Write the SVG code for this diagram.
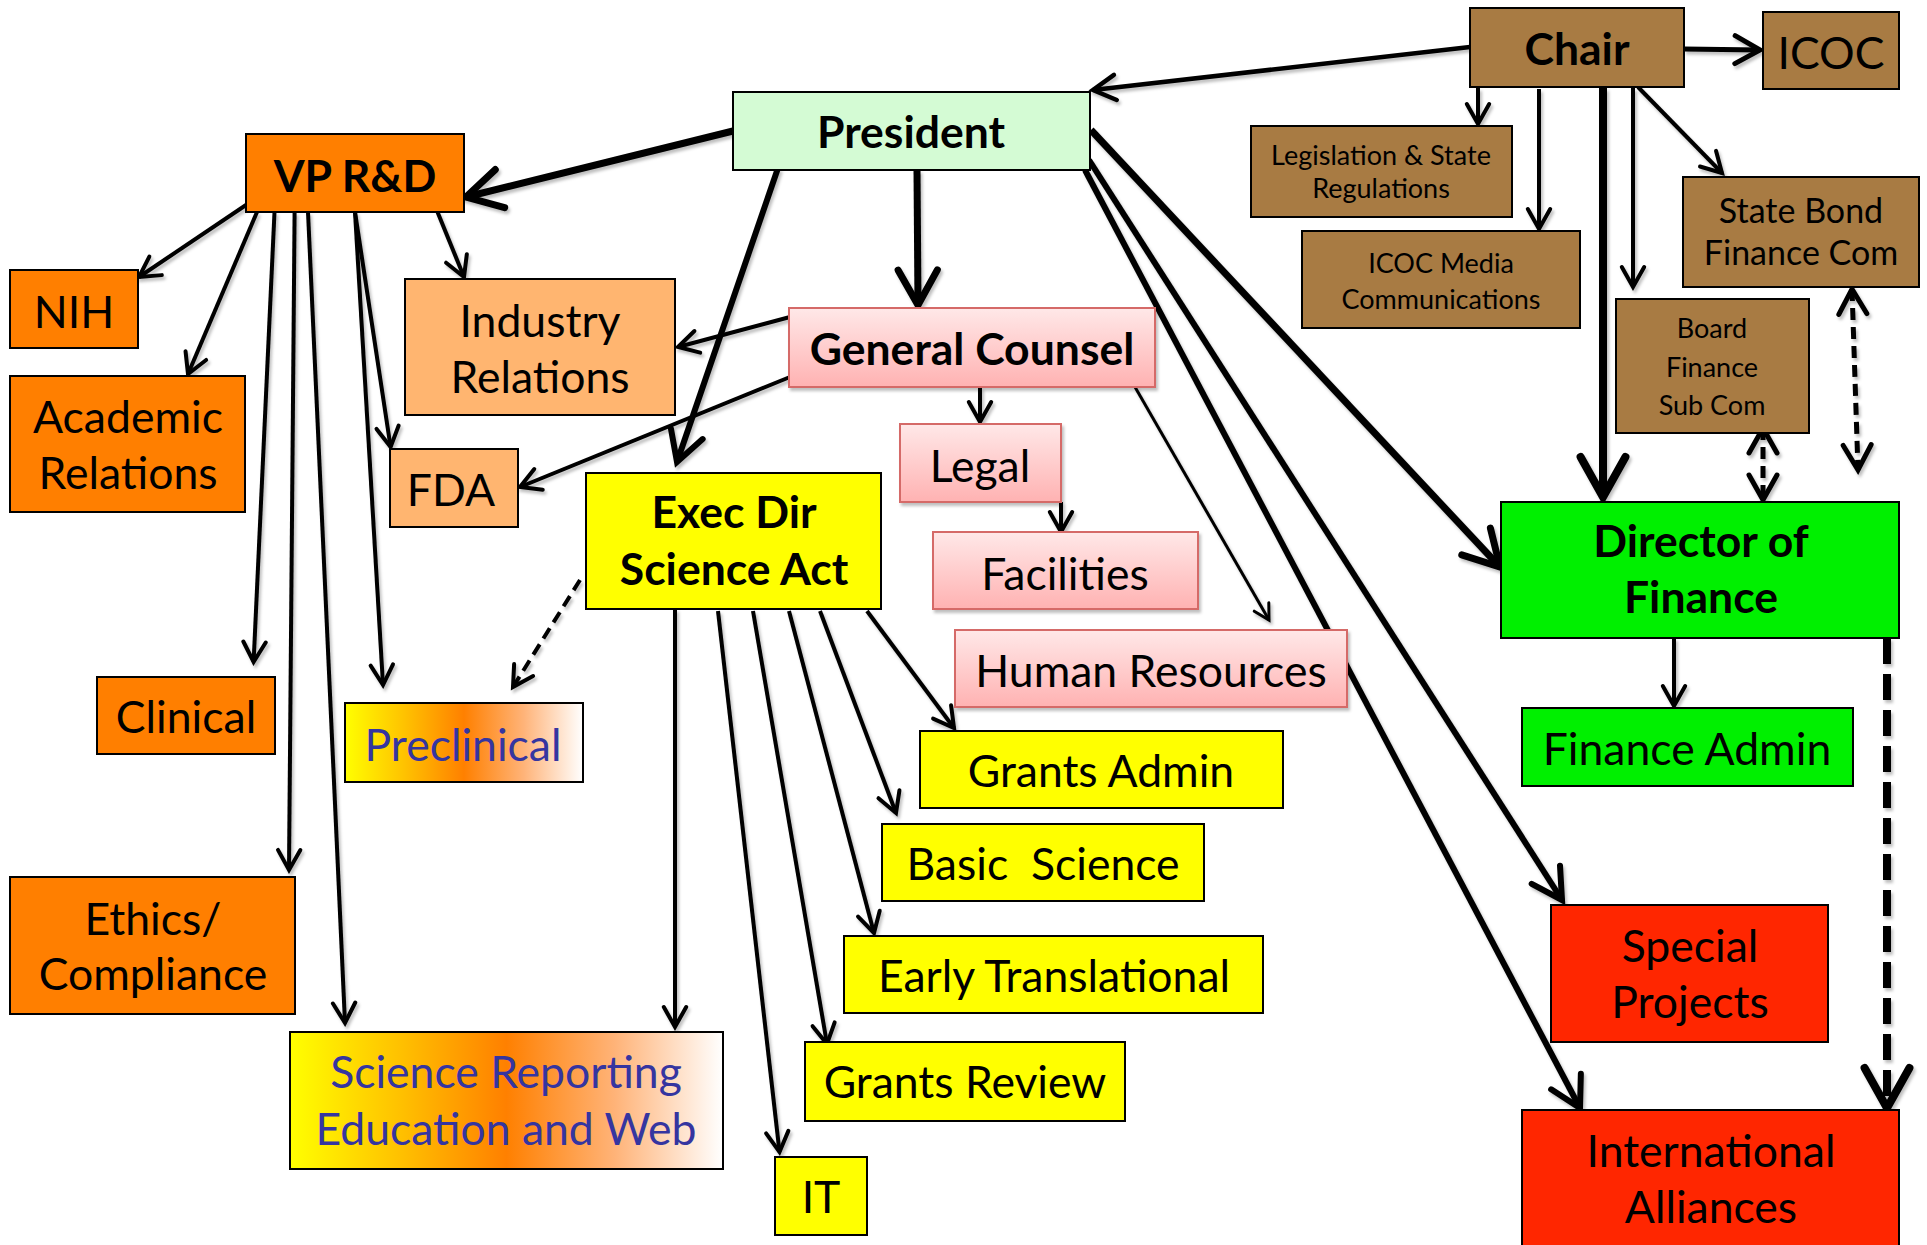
<svg xmlns="http://www.w3.org/2000/svg" width="1927" height="1245" viewBox="0 0 1927 1245">
<style>
.bx{stroke:#000;stroke-width:2}
.pk{fill:url(#gPink);stroke:#D56A68;stroke-width:2;filter:url(#sh)}
.or{fill:#FF7F00}
.lo{fill:#FFB570}
.ye{fill:#FFFF00}
.br{fill:#A87B43}
.gr{fill:#00F000}
.rd{fill:#FF2600}
.t{font-family:Lato,"Liberation Sans",sans-serif;font-size:44.5px;text-anchor:middle;fill:#000}
.b{font-weight:bold}
.s{font-size:27px}
.m{font-size:34px}
.bl{fill:#3535A0}
.c line{stroke:#000;fill:none;marker-end:url(#ah)}
.d{stroke-dasharray:12 7}
.dd{stroke-dasharray:26 10}
.two{marker-start:url(#ah)}
</style>
<defs>
<marker id="ah" viewBox="-7 -5 9 10" refX="0" refY="0" markerWidth="9" markerHeight="10" orient="auto-start-reverse" markerUnits="strokeWidth" overflow="visible">
<path d="M-5,-2.8 L0,0 L-5,2.8" fill="none" stroke="#000" stroke-width="1" stroke-dasharray="none" stroke-linecap="round" stroke-linejoin="miter"/>
</marker>
<linearGradient id="gPink" x1="0" y1="0" x2="0" y2="1">
<stop offset="0" stop-color="#FFE8E8"/>
<stop offset="1" stop-color="#FFB2B2"/>
</linearGradient>
<linearGradient id="gFade" x1="0" y1="0" x2="1" y2="0">
<stop offset="0" stop-color="#FFFF00"/>
<stop offset="0.25" stop-color="#FFC200"/>
<stop offset="0.5" stop-color="#FF8000"/>
<stop offset="0.75" stop-color="#FFB378"/>
<stop offset="1" stop-color="#FFFFFF"/>
</linearGradient>
<filter id="sh" x="-10%" y="-10%" width="130%" height="130%">
<feDropShadow dx="2" dy="3" stdDeviation="1.5" flood-color="#000" flood-opacity="0.25"/>
</filter>
</defs>
<rect width="1927" height="1245" fill="#fff"/>

<g id="connectors" class="c" filter="url(#sh)">
<line x1="1470" y1="47" x2="1093" y2="90" stroke-width="4.5"/>
<line x1="1684" y1="49" x2="1760" y2="50" stroke-width="5"/>
<line x1="1478" y1="88" x2="1478" y2="124" stroke-width="4"/>
<line x1="1539" y1="89" x2="1539" y2="229" stroke-width="4"/>
<line x1="1603" y1="88" x2="1603" y2="497" stroke-width="8"/>
<line x1="1633" y1="88" x2="1633" y2="287" stroke-width="4"/>
<line x1="1638" y1="87" x2="1722" y2="173" stroke-width="4"/>
<line class="d two" x1="1763" y1="428" x2="1763" y2="500" stroke-width="5"/>
<line class="d two" x1="1852" y1="289" x2="1858" y2="470" stroke-width="5"/>
<line x1="1674" y1="638" x2="1674" y2="706" stroke-width="4"/>
<line class="dd" x1="1887" y1="638" x2="1887" y2="1108" stroke-width="8"/>
<line x1="733" y1="131" x2="466" y2="197" stroke-width="7"/>
<line x1="917" y1="170" x2="918" y2="305" stroke-width="7"/>
<line x1="778" y1="168" x2="677" y2="462" stroke-width="6"/>
<line x1="1091" y1="130" x2="1500" y2="567" stroke-width="7"/>
<line x1="1089" y1="160" x2="1562" y2="900" stroke-width="6"/>
<line x1="1085" y1="170" x2="1580" y2="1108" stroke-width="6"/>
<line x1="790" y1="317" x2="678" y2="347" stroke-width="4"/>
<line x1="790" y1="377" x2="520" y2="487" stroke-width="4"/>
<line x1="980" y1="387" x2="980" y2="422" stroke-width="4"/>
<line x1="1061" y1="502" x2="1061" y2="532" stroke-width="4"/>
<line x1="1135" y1="387" x2="1269" y2="620" stroke-width="3"/>
<line x1="246" y1="205" x2="139" y2="277" stroke-width="4"/>
<line x1="257" y1="212" x2="188" y2="374" stroke-width="4"/>
<line x1="274.5" y1="212" x2="253.6" y2="662" stroke-width="4"/>
<line x1="294.6" y1="212" x2="289" y2="870" stroke-width="4"/>
<line x1="308" y1="212" x2="345" y2="1023" stroke-width="4"/>
<line x1="355" y1="212" x2="390.6" y2="447" stroke-width="4"/>
<line x1="355" y1="212" x2="383" y2="685" stroke-width="4"/>
<line x1="437.5" y1="212" x2="464" y2="277" stroke-width="4"/>
<line class="d" x1="580" y1="580" x2="513" y2="687" stroke-width="4"/>
<line x1="675" y1="609" x2="675" y2="1027" stroke-width="4"/>
<line x1="718" y1="611" x2="779.5" y2="1152" stroke-width="4"/>
<line x1="753" y1="611" x2="827" y2="1044" stroke-width="4"/>
<line x1="789" y1="611" x2="874" y2="933" stroke-width="4"/>
<line x1="820" y1="611" x2="896" y2="813" stroke-width="4"/>
<line x1="867" y1="611" x2="954" y2="728" stroke-width="4"/>
</g>

<g id="chair"><rect class="bx br" x="1470" y="8" width="214" height="79"/><text class="t b" x="1577" y="65">Chair</text></g>
<g id="icoc"><rect class="bx br" x="1763" y="12" width="136" height="77"/><text class="t" x="1831" y="69">ICOC</text></g>
<g id="legislation"><rect class="bx br" x="1251" y="126" width="261" height="91"/><text class="t s" x="1381" y="165">Legislation &amp; State</text><text class="t s" x="1381" y="198">Regulations</text></g>
<g id="icoc-media"><rect class="bx br" x="1302" y="231" width="278" height="97"/><text class="t s" x="1441" y="273">ICOC Media</text><text class="t s" x="1441" y="309">Communications</text></g>
<g id="state-bond"><rect class="bx br" x="1683" y="177" width="236" height="110"/><text class="t m" x="1801" y="223">State Bond</text><text class="t m" x="1801" y="265">Finance Com</text></g>
<g id="board-finance"><rect class="bx br" x="1616" y="299" width="193" height="134"/><text class="t s" x="1712" y="338">Board</text><text class="t s" x="1712" y="377">Finance</text><text class="t s" x="1712" y="415">Sub Com</text></g>
<g id="president"><rect class="bx" fill="#D4FBD4" x="733" y="92" width="357" height="78"/><text class="t b" x="911" y="148">President</text></g>
<g id="vp-rd"><rect class="bx or" x="246" y="134" width="218" height="78"/><text class="t b" x="355" y="192">VP R&amp;D</text></g>
<g id="nih"><rect class="bx or" x="10" y="270" width="128" height="78"/><text class="t" x="74" y="328">NIH</text></g>
<g id="academic"><rect class="bx or" x="10" y="376" width="235" height="136"/><text class="t" x="128" y="433">Academic</text><text class="t" x="128" y="489">Relations</text></g>
<g id="industry"><rect class="bx lo" x="405" y="279" width="270" height="136"/><text class="t" x="540" y="337">Industry</text><text class="t" x="540" y="393">Relations</text></g>
<g id="fda"><rect class="bx lo" x="390" y="449" width="128" height="78"/><text class="t" x="451" y="506">FDA</text></g>
<g id="clinical"><rect class="bx or" x="97" y="677" width="178" height="77"/><text class="t" x="186" y="733">Clinical</text></g>
<g id="preclinical"><rect class="bx" fill="url(#gFade)" x="345" y="703" width="238" height="79"/><text class="t bl" x="463" y="761">Preclinical</text></g>
<g id="ethics"><rect class="bx or" x="10" y="877" width="285" height="137"/><text class="t" x="153" y="935">Ethics/</text><text class="t" x="153" y="990">Compliance</text></g>
<g id="science-reporting"><rect class="bx" fill="url(#gFade)" x="290" y="1032" width="433" height="137"/><text class="t bl" x="506" y="1088">Science Reporting</text><text class="t bl" x="506" y="1145">Education and Web</text></g>
<g id="exec-dir"><rect class="bx ye" x="586" y="473" width="295" height="136"/><text class="t b" x="734" y="528">Exec Dir</text><text class="t b" x="734" y="585">Science Act</text></g>
<g id="general-counsel"><rect class="pk" x="789" y="308" width="366" height="79"/><text class="t b" x="972" y="365">General Counsel</text></g>
<g id="legal"><rect class="pk" x="900" y="424" width="161" height="78"/><text class="t" x="980" y="482">Legal</text></g>
<g id="facilities"><rect class="pk" x="933" y="532" width="265" height="77"/><text class="t" x="1065" y="590">Facilities</text></g>
<g id="human-resources"><rect class="pk" x="955" y="630" width="392" height="77"/><text class="t" x="1151" y="687">Human Resources</text></g>
<g id="grants-admin"><rect class="bx ye" x="920" y="731" width="363" height="77"/><text class="t" x="1101" y="787">Grants Admin</text></g>
<g id="basic-science"><rect class="bx ye" x="882" y="824" width="322" height="77"/><text class="t" x="1043" y="880" xml:space="preserve" style="white-space:pre">Basic  Science</text></g>
<g id="early-translational"><rect class="bx ye" x="844" y="936" width="419" height="77"/><text class="t" x="1054" y="992">Early Translational</text></g>
<g id="grants-review"><rect class="bx ye" x="805" y="1042" width="320" height="79"/><text class="t" x="965" y="1098">Grants Review</text></g>
<g id="it"><rect class="bx ye" x="775" y="1157" width="92" height="78"/><text class="t" x="821" y="1213">IT</text></g>
<g id="director-finance"><rect class="bx gr" x="1501" y="502" width="398" height="136"/><text class="t b" x="1701" y="557">Director of</text><text class="t b" x="1701" y="613">Finance</text></g>
<g id="finance-admin"><rect class="bx gr" x="1522" y="708" width="331" height="78"/><text class="t" x="1687" y="765">Finance Admin</text></g>
<g id="special-projects"><rect class="bx rd" x="1551" y="905" width="277" height="137"/><text class="t" x="1690" y="962">Special</text><text class="t" x="1690" y="1018">Projects</text></g>
<g id="international"><rect class="bx rd" x="1522" y="1110" width="377" height="145"/><text class="t" x="1711" y="1167">International</text><text class="t" x="1711" y="1223">Alliances</text></g>
</svg>
